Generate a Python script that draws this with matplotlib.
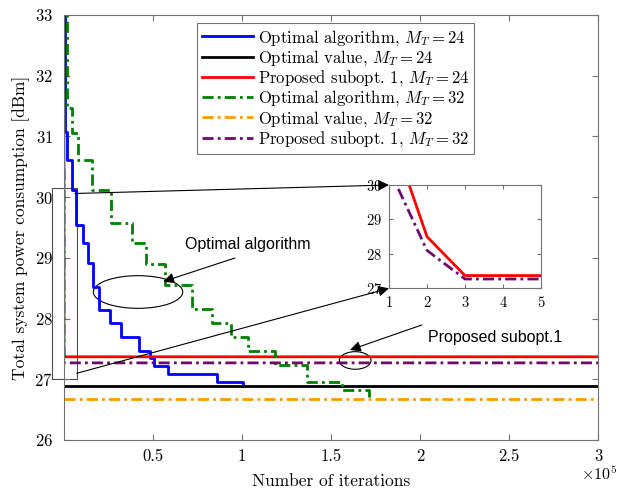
import matplotlib
matplotlib.use("Agg")
import matplotlib.pyplot as plt
from matplotlib.patches import Ellipse, Rectangle

plt.rcParams['font.family'] = ['cmr10', 'DejaVu Serif']
plt.rcParams['mathtext.fontset'] = 'cm'
plt.rcParams['axes.unicode_minus'] = False
plt.rcParams['axes.formatter.use_mathtext'] = True

# ---------------- data ----------------
# Optimal algorithm, M_T = 24 (step curve: iteration where value changes, new value)
opt24_iter = [1, 300, 1500, 4300, 6700, 10800, 13300, 16300, 19800, 25800, 32000,
              42100, 48300, 50700, 58600, 85800, 100700, 101500]
opt24_val = [34.0, 31.08, 30.61, 30.12, 29.54, 29.24, 28.91, 28.52, 28.14, 27.92, 27.70,
             27.47, 27.35, 27.22, 27.09, 26.96, 26.89, 26.89]
# Optimal algorithm, M_T = 32
opt32_iter = [1, 1500, 4300, 8000, 15900, 26200, 38000, 45800, 56700, 71700, 83000,
              93800, 103500, 118500, 136500, 156000, 171500, 172500]
opt32_val = [34.0, 31.46, 31.06, 30.61, 30.11, 29.57, 29.24, 28.90, 28.55, 28.16, 27.93,
             27.70, 27.47, 27.24, 26.96, 26.82, 26.67, 26.67]
# Optimal values
optval24 = 26.89
optval32 = 26.67
# Proposed suboptimal 1 (iterations 1..5, then constant)
sub_iter = [1, 2, 3, 4, 5, 300000]
sub24_val = [31.70, 28.50, 27.37, 27.37, 27.37, 27.37]
sub32_val = [30.47, 28.10, 27.27, 27.27, 27.27, 27.27]
x_range = [1, 300000]

xticks = [50000, 100000, 150000, 200000, 250000, 300000]
xticklabels = ['0.5', '1', '1.5', '2', '2.5', '3']
yticks = [26, 27, 28, 29, 30, 31, 32, 33]

labels = [r'Optimal algorithm, $M_T = 24$', r'Optimal value, $M_T = 24$',
          r'Proposed subopt. 1, $M_T = 24$', r'Optimal algorithm, $M_T = 32$',
          r'Optimal value, $M_T = 32$', r'Proposed subopt. 1, $M_T = 32$']

c_blue = '#0000ff'
c_black = '#000000'
c_red = '#ff0000'
c_green = '#008000'
c_orange = '#ff9900'
c_purple = '#6e0a6e'
dd = (0, (4, 1.5, 1, 1.5))
spine_c = '0.45'

fig = plt.figure(figsize=(6.19, 4.88), dpi=100)
ax = fig.add_axes([0.1034, 0.0984, 0.8627, 0.8709])

ax.step(opt24_iter, opt24_val, where='post', color=c_blue, lw=2, label=labels[0])
ax.plot(x_range, [optval24, optval24], color=c_black, lw=2, label=labels[1])
ax.plot(sub_iter, sub24_val, color=c_red, lw=2, label=labels[2])
ax.step(opt32_iter, opt32_val, where='post', color=c_green, lw=2, ls=dd, label=labels[3])
ax.plot(x_range, [optval32, optval32], color=c_orange, lw=2, ls=dd, label=labels[4])
ax.plot(sub_iter, sub32_val, color=c_purple, lw=2, ls=dd, label=labels[5])

ax.set_xlim(1, 300000)
ax.set_ylim(26, 33)
ax.set_xticks(xticks)
ax.set_xticklabels(xticklabels)
ax.set_yticks(yticks)
ax.tick_params(direction='in', top=True, right=True, length=4, width=0.8,
               color=spine_c, labelsize=12, pad=8)
ax.tick_params(axis='x', pad=6)
for s in ax.spines.values():
    s.set_color(spine_c)
    s.set_linewidth(0.8)
ax.set_xlabel('Number of iterations', fontsize=12.5, labelpad=7)
ax.set_ylabel('Total system power consumption [dBm]', fontsize=12.5, labelpad=3)
ax.text(1.036, -0.06, r'$\times10^5$', transform=ax.transAxes, fontsize=11.5,
        ha='right', va='top')

leg = ax.legend(loc='upper right', bbox_to_anchor=(0.7678, 0.9819), borderaxespad=0,
                fontsize=12, handlelength=3.1, handletextpad=0.25, labelspacing=0.02,
                borderpad=0.3, fancybox=False, framealpha=1, edgecolor=spine_c)
leg.get_frame().set_linewidth(0.8)

# zoom box and connecting arrows
ax.add_patch(Rectangle((-0.023, 0.1428), 0.0468, 0.4508, transform=ax.transAxes,
                       fill=False, ec='0.3', lw=0.8, clip_on=False))

axins = fig.add_axes([0.6284, 0.4092, 0.2456, 0.2117])
axins.plot(sub_iter, sub24_val, color=c_red, lw=2)
axins.plot(sub_iter, sub32_val, color=c_purple, lw=2, ls=dd)
axins.set_xlim(1, 5)
axins.set_ylim(27, 30)
axins.set_xticks([1, 2, 3, 4, 5])
axins.set_yticks([27, 28, 29, 30])
axins.tick_params(direction='in', top=True, right=True, length=3, width=0.8,
                  color=spine_c, labelsize=10.5, pad=5)
for s in axins.spines.values():
    s.set_color(spine_c)
    s.set_linewidth(0.8)

arrow_kw = dict(arrowstyle='-|>', color='black', lw=0.8, mutation_scale=16,
                shrinkA=0, shrinkB=0)
ax.annotate('', xy=(0, 1), xycoords=axins.transAxes, xytext=(0.0206, 0.58),
            textcoords='axes fraction', arrowprops=arrow_kw)
ax.annotate('', xy=(0, 0), xycoords=axins.transAxes, xytext=(0.0238, 0.1569),
            textcoords='axes fraction', arrowprops=arrow_kw)

# annotations
ax.add_patch(Ellipse((0.1386, 0.3482), 0.1674, 0.0769, transform=ax.transAxes,
                     fill=False, ec='black', lw=0.8))
ax.annotate('', xy=(0.186, 0.3729), xytext=(0.3202, 0.4282), xycoords='axes fraction',
            arrowprops=arrow_kw)
ax.text(0.2266, 0.4588, 'Optimal algorithm', transform=ax.transAxes,
        family='Liberation Sans', fontsize=11.5, ha='left', va='center')

ax.add_patch(Ellipse((0.5453, 0.1871), 0.0594, 0.0414, transform=ax.transAxes,
                     fill=False, ec='black', lw=0.8))
ax.annotate('', xy=(0.5356, 0.2118), xytext=(0.6699, 0.2706), xycoords='axes fraction',
            arrowprops=arrow_kw)
ax.text(0.6811, 0.2416, 'Proposed subopt.1', transform=ax.transAxes,
        family='Liberation Sans', fontsize=11.5, ha='left', va='center')

fig.savefig('out.png', dpi=100)
